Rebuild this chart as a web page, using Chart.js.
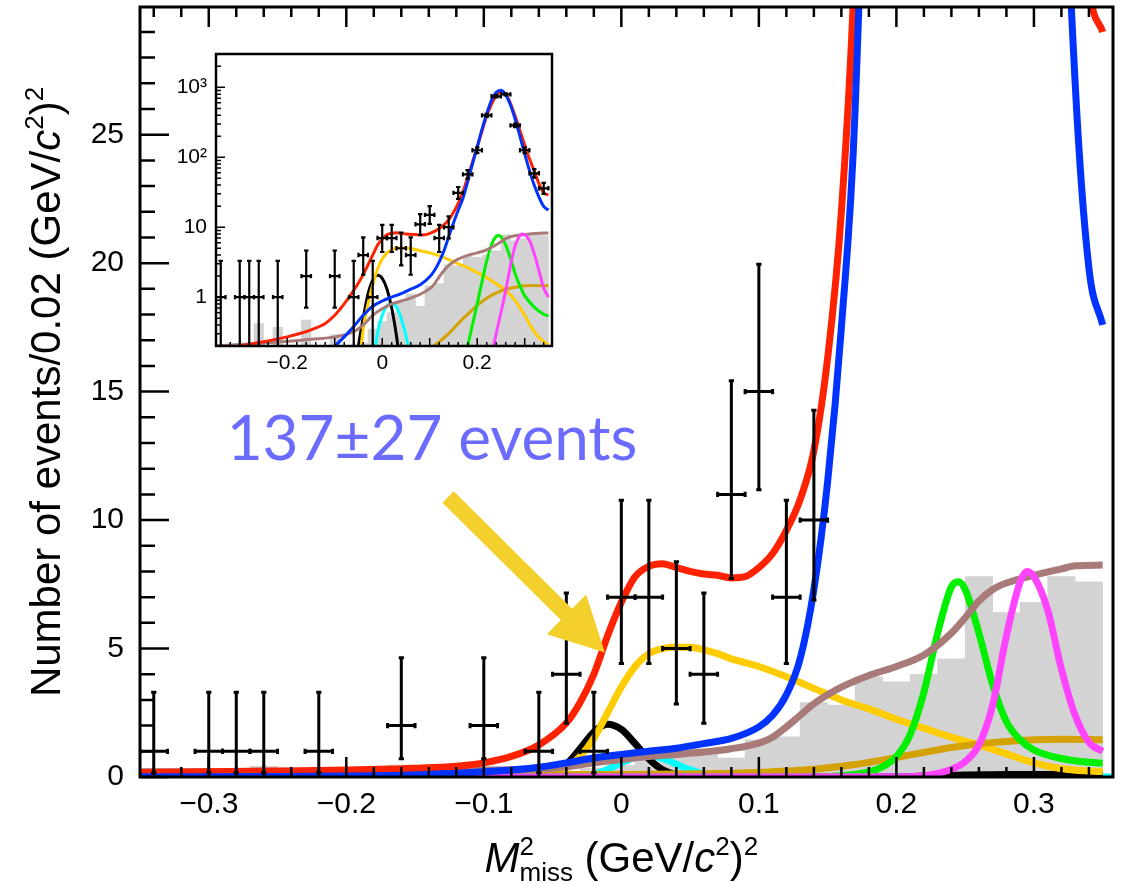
<!DOCTYPE html>
<html>
<head>
<meta charset="utf-8">
<script src="https://cdn.jsdelivr.net/npm/chart.js@4.4.1/dist/chart.umd.min.js"></script>
<style>
  html, body { margin: 0; padding: 0; background: #fff; overflow: hidden; }
  #wrap { position: relative; width: 1121px; height: 884px; }
  #mainChart { position: absolute; left: 0; top: 0; }
  #insetChart { position: absolute; left: 172px; top: 40px; }
</style>
</head>
<body>
<div id="wrap">
  <canvas id="mainChart" width="1121" height="884"></canvas>
  <canvas id="insetChart" width="390" height="340"></canvas>
</div>
<script>
// ---- histogram of M2miss, bins of 0.02 ----
var binCenters = [-0.34,-0.32,-0.30,-0.28,-0.26,-0.24,-0.22,-0.20,-0.18,-0.16,-0.14,-0.12,-0.10,-0.08,-0.06,-0.04,-0.02,
                  0.00,0.02,0.04,0.06,0.08,0.10,0.12,0.14,0.16,0.18,0.20,0.22,0.24,0.26,0.28,0.30,0.32,0.34];
var binHalfWidth = 0.01;
var dataCounts = [1,0,1,1,1,0,1,0,0,2,0,0,2,0,1,4,1,
                  7,7,5,4,11,15,7,10,31,57,126,398,745,795,286,126,59,36];
// asymmetric (Poisson) errors on the counts
var errLow  = [0.83,0,0.83,0.83,0.83,0,0.83,0,0,1.29,0,0,1.29,0,0.83,1.91,0.83,
               2.58,2.58,2.16,1.91,3.27,3.82,2.58,3.11,5.5,7.5,11.2,20,27.3,28.2,16.9,11.2,7.7,6];
var errHigh = [2.30,0,2.30,2.30,2.30,0,2.30,0,0,2.64,0,0,2.64,0,2.30,3.16,2.30,
               3.77,3.77,3.38,3.16,4.42,4.96,3.77,4.27,6.6,8.6,12.2,21,28.3,29.2,17.9,12.2,8.7,7];
// peaking background (grey histogram)
var peakingBkg = [0,0,0,0,0.42,0,0.37,0,0,0.47,0,0,0.29,0,0,0.22,0.35,
                  0.45,0.6,0.85,1.1,0.74,1.45,1.56,2.9,2.8,3.9,3.7,4.0,4.6,7.8,6.4,6.8,7.8,7.6];

// ---- fit components ----
var redX = [-0.35,-0.30,-0.25,-0.20,-0.15,-0.12,-0.10,-0.08,-0.06,-0.04,-0.03,-0.02,-0.01,0.00,0.01,0.02,0.03,0.04,0.05,0.06,0.07,0.08,0.09,0.10,
            0.11,0.12,0.13,0.14,0.15,0.16,0.17,0.18,0.19,0.20,0.21,0.22,0.23,0.24,0.25,0.26,0.27,0.28,0.29,0.30,0.31,0.32,0.33,0.34,0.35];
var redY = [0.18,0.2,0.23,0.27,0.34,0.42,0.55,0.8,1.25,2.1,2.9,4.0,5.5,6.8,7.8,8.2,8.3,8.15,8.0,7.9,7.85,7.75,7.8,8.15,
            8.7,9.6,10.8,12.7,16.3,22,32,52,85,140,235,390,570,760,870,800,590,385,240,150,95,64,42,31,29];

var blueX = [-0.35,-0.25,-0.18,-0.14,-0.12,-0.10,-0.08,-0.06,-0.04,-0.02,0.00,0.02,0.04,0.06,0.08,0.10,0.11,0.12,0.13,0.14,0.15,0.16,0.17,
             0.18,0.19,0.20,0.21,0.22,0.23,0.24,0.25,0.26,0.27,0.28,0.29,0.30,0.31,0.32,0.33,0.34,0.35];
var blueY = [0.01,0.02,0.05,0.1,0.15,0.2,0.27,0.38,0.55,0.74,0.88,1.0,1.12,1.3,1.5,1.95,2.4,3.2,4.6,7.3,11.5,17.5,26,
             45,80,140,250,420,650,850,910,780,560,350,200,112,65,40,27,19.8,17.6];

var yellowX = [-0.35,-0.07,-0.06,-0.05,-0.04,-0.03,-0.02,-0.01,0.00,0.01,0.02,0.03,0.04,0.05,0.06,0.07,0.08,0.09,0.10,
               0.12,0.14,0.16,0.18,0.20,0.22,0.24,0.26,0.28,0.30,0.32,0.34,0.35];
var yellowY = [0.001,0.001,0.01,0.08,0.35,0.8,1.5,2.5,3.5,4.3,4.8,5.0,5.05,5.05,4.95,4.8,4.6,4.45,4.3,
               3.9,3.45,3.0,2.65,2.25,1.9,1.55,1.25,0.9,0.55,0.32,0.23,0.21];

var blackX = [-0.35,-0.07,-0.06,-0.05,-0.04,-0.03,-0.02,-0.01,0.00,0.01,0.02,0.03,0.04,0.05,0.06,0.20,0.22,0.25,0.28,0.35];
var blackY = [0.0001,0.01,0.05,0.2,0.5,1.1,1.75,2.05,1.85,1.3,0.7,0.28,0.08,0.02,0.003,0.003,0.04,0.08,0.1,0.1];

var cyanX = [-0.35,-0.03,-0.02,-0.01,0.00,0.01,0.02,0.03,0.04,0.05,0.06,0.07,0.08,0.3575];
var cyanY = [0.0001,0.01,0.1,0.3,0.55,0.75,0.82,0.72,0.5,0.28,0.12,0.04,0.01,0.0001];

var greenX = [-0.35,0.14,0.16,0.18,0.19,0.20,0.21,0.22,0.23,0.24,0.245,0.25,0.26,0.27,0.28,0.29,0.30,0.32,0.34,0.35];
var greenY = [0.0001,0.01,0.05,0.2,0.4,0.8,1.65,3.3,5.6,7.4,7.6,7.3,5.6,3.6,2.15,1.45,1.05,0.72,0.57,0.54];

var magentaX = [-0.35,0.20,0.22,0.23,0.24,0.25,0.26,0.27,0.28,0.29,0.295,0.30,0.31,0.32,0.33,0.34,0.35];
var magentaY = [0.0001,0.01,0.05,0.14,0.3,0.6,1.25,2.8,5.5,7.6,8.0,7.8,6.5,4.2,2.4,1.35,1.0];

var goldX = [-0.35,-0.20,0.00,0.06,0.10,0.12,0.14,0.16,0.18,0.20,0.22,0.24,0.26,0.28,0.30,0.32,0.35];
var goldY = [0.08,0.08,0.1,0.13,0.18,0.23,0.3,0.42,0.57,0.76,0.96,1.15,1.29,1.38,1.45,1.47,1.45];

var brownX = [-0.35,-0.25,-0.15,-0.10,-0.06,-0.04,-0.02,0.00,0.02,0.04,0.06,0.08,0.10,0.11,0.12,0.13,0.14,0.15,0.16,
              0.18,0.20,0.22,0.24,0.25,0.26,0.27,0.28,0.30,0.32,0.33,0.35];
var brownY = [0.2,0.22,0.25,0.27,0.32,0.4,0.55,0.68,0.8,0.88,0.97,1.1,1.32,1.55,1.95,2.4,2.85,3.2,3.5,
              3.95,4.3,4.75,5.6,6.2,6.85,7.3,7.55,7.85,8.1,8.22,8.25];

// ---- axes ----
var xRange = [-0.35, 0.3575];
var xTickValues = [-0.3,-0.2,-0.1,0,0.1,0.2,0.3];
var xTickLabels = ['\u22120.3','\u22120.2','\u22120.1','0','0.1','0.2','0.3'];
var yTickValues = [0,5,10,15,20,25];
var yTickLabels = ['0','5','10','15','20','25'];
var insetXTickValues = [-0.2,0,0.2];
var insetXTickLabels = ['\u22120.2','0','0.2'];
var insetYTickValues = [1,10,100,1000];
var insetYTickLabels = ['1','10','10\u00b2','10\u00b3'];

// yield annotation
var yieldText = '137\u00b127 events';
var yieldTextPos = [-0.287, 12.35];
var arrowFrom = [-0.126, 10.9];
var arrowTo = [-0.012, 4.85];

var FONT = '"Liberation Sans", Arial, sans-serif';

function pairs(xs, ys) {
  return xs.map(function (x, i) { return { x: x, y: ys[i] }; });
}

function curve(xs, ys, color, width) {
  return {
    type: 'line',
    data: pairs(xs, ys),
    borderColor: color,
    borderWidth: width,
    pointRadius: 0,
    fill: false,
    cubicInterpolationMode: 'monotone',
    clip: 0
  };
}

function buildDatasets(lw, logScale) {
  var bkg = binCenters.map(function (c, i) {
    var v = peakingBkg[i];
    return { x: c, y: (logScale && v <= 0) ? null : v };
  });
  // first entry is drawn on top
  return [
    curve(blueX, blueY, '#0033ff', lw),
    curve(redX, redY, '#ff2200', lw),
    curve(magentaX, magentaY, '#ff44ff', lw),
    curve(brownX, brownY, '#a87a78', lw),
    curve(greenX, greenY, '#00f000', lw),
    curve(goldX, goldY, '#d4a200', lw),
    curve(yellowX, yellowY, '#ffcc00', lw),
    curve(blackX, blackY, '#000000', lw),
    curve(cyanX, cyanY, '#00ffff', lw),
    {
      type: 'bar',
      data: bkg,
      backgroundColor: '#d3d3d3',
      borderWidth: 0,
      barPercentage: 1.0,
      categoryPercentage: 1.0,
      clip: 0
    }
  ];
}

// points with error bars, skipped when off the top of the frame
function drawDataPoints(chart, lw, cap) {
  var ctx = chart.ctx, a = chart.chartArea;
  var xs = chart.scales.x, ys = chart.scales.y;
  ctx.save();
  ctx.beginPath();
  ctx.rect(a.left, a.top, a.right - a.left, a.bottom - a.top);
  ctx.clip();
  ctx.strokeStyle = '#000';
  ctx.lineWidth = lw;
  binCenters.forEach(function (c, i) {
    var n = dataCounts[i];
    if (n <= 0 || n > ys.max) return;
    var px = xs.getPixelForValue(c), py = ys.getPixelForValue(n);
    var pLo = ys.getPixelForValue(Math.max(n - errLow[i], ys.min));
    var pHi = ys.getPixelForValue(n + errHigh[i]);
    var pL = xs.getPixelForValue(c - binHalfWidth), pR = xs.getPixelForValue(c + binHalfWidth);
    ctx.beginPath();
    ctx.moveTo(px, pLo); ctx.lineTo(px, pHi);
    ctx.moveTo(pL, py); ctx.lineTo(pR, py);
    ctx.moveTo(px - cap, pLo); ctx.lineTo(px + cap, pLo);
    ctx.moveTo(px - cap, pHi); ctx.lineTo(px + cap, pHi);
    ctx.moveTo(pL, py - cap); ctx.lineTo(pL, py + cap);
    ctx.moveTo(pR, py - cap); ctx.lineTo(pR, py + cap);
    ctx.stroke();
  });
  ctx.restore();
}

// inward ticks on a 0.02 grid for x
function drawXTicks(ctx, a, xs, major, minor, top) {
  for (var k = -17; k <= 17; k++) {
    var px = xs.getPixelForValue(k * 0.02);
    var len = (k % 5 === 0) ? major : minor;
    ctx.moveTo(px, a.bottom); ctx.lineTo(px, a.bottom - len);
    if (top) { ctx.moveTo(px, a.top); ctx.lineTo(px, a.top + len); }
  }
}

// rich text: runs of {t, f, dy} or {stack: [sup, sub], f, up, down}
function runsWidth(ctx, runs) {
  var w = 0;
  runs.forEach(function (r) {
    ctx.font = r.f;
    if (r.stack) w += Math.max(ctx.measureText(r.stack[0]).width, ctx.measureText(r.stack[1]).width);
    else w += ctx.measureText(r.t).width;
  });
  return w;
}
function drawRuns(ctx, runs, x, y) {
  runs.forEach(function (r) {
    ctx.font = r.f;
    if (r.stack) {
      ctx.fillText(r.stack[0], x, y + r.up);
      ctx.fillText(r.stack[1], x, y + r.down);
      x += Math.max(ctx.measureText(r.stack[0]).width, ctx.measureText(r.stack[1]).width);
    } else {
      ctx.fillText(r.t, x, y + (r.dy || 0));
      x += ctx.measureText(r.t).width;
    }
  });
}

var titleFont = '42px ' + FONT, titleItalic = 'italic 42px ' + FONT, titleSmall = '26px ' + FONT;
var yTitleRuns = [
  { t: 'Number of events/0.02 (GeV/', f: titleFont },
  { t: 'c', f: titleItalic },
  { t: '2', f: titleSmall, dy: -17 },
  { t: ')', f: titleFont },
  { t: '2', f: titleSmall, dy: -17 }
];
var xTitleRuns = [
  { t: 'M', f: titleItalic },
  { stack: ['2', 'miss'], f: titleSmall, up: -17, down: 9 },
  { t: ' (GeV/', f: titleFont },
  { t: 'c', f: titleItalic },
  { t: '2', f: titleSmall, dy: -17 },
  { t: ')', f: titleFont },
  { t: '2', f: titleSmall, dy: -17 }
];

// keep the frame where the layout padding puts it, labels may overhang
function noLabelPadding(s) {
  s.paddingTop = 0; s.paddingBottom = 0; s.paddingLeft = 0; s.paddingRight = 0;
}

var mainDecor = {
  id: 'mainDecor',
  afterDatasetsDraw: function (chart) {
    drawDataPoints(chart, 3, 2.6);
  },
  afterDraw: function (chart) {
    var ctx = chart.ctx, a = chart.chartArea;
    var xs = chart.scales.x, ys = chart.scales.y;
    ctx.save();
    ctx.strokeStyle = '#000';
    ctx.lineWidth = 2.5;
    ctx.beginPath();
    drawXTicks(ctx, a, xs, 20, 10, true);
    for (var v = 0; v < ys.max; v++) {
      var py = ys.getPixelForValue(v);
      ctx.moveTo(a.left, py); ctx.lineTo(a.left + (v % 5 === 0 ? 29 : 15), py);
    }
    ctx.stroke();
    ctx.lineWidth = 3;
    ctx.strokeRect(a.left, a.top, a.right - a.left, a.bottom - a.top);

    // arrow pointing at the signal bump
    var x0 = xs.getPixelForValue(arrowFrom[0]), y0 = ys.getPixelForValue(arrowFrom[1]);
    var x1 = xs.getPixelForValue(arrowTo[0]), y1 = ys.getPixelForValue(arrowTo[1]);
    var dx = x1 - x0, dy = y1 - y0, L = Math.sqrt(dx * dx + dy * dy);
    var ux = dx / L, uy = dy / L, nx = -uy, ny = ux;
    var head = 54, hw = 28, sw = 8;
    var bx = x1 - ux * head, by = y1 - uy * head;
    ctx.fillStyle = '#f4d02c';
    ctx.beginPath();
    ctx.moveTo(x0 + nx * sw, y0 + ny * sw);
    ctx.lineTo(bx + nx * sw, by + ny * sw);
    ctx.lineTo(bx + nx * hw, by + ny * hw);
    ctx.lineTo(x1, y1);
    ctx.lineTo(bx - nx * hw, by - ny * hw);
    ctx.lineTo(bx - nx * sw, by - ny * sw);
    ctx.lineTo(x0 - nx * sw, y0 - ny * sw);
    ctx.closePath();
    ctx.fill();

    // yield label
    ctx.fillStyle = '#6b6bff';
    ctx.font = '62px Lato, sans-serif';
    ctx.textBaseline = 'alphabetic';
    ctx.textAlign = 'left';
    ctx.fillText(yieldText, xs.getPixelForValue(yieldTextPos[0]), ys.getPixelForValue(yieldTextPos[1]));

    // axis titles
    ctx.fillStyle = '#000';
    var xw = runsWidth(ctx, xTitleRuns);
    drawRuns(ctx, xTitleRuns, xs.getPixelForValue(0) - xw / 2, 872);
    ctx.translate(60, (a.top + a.bottom) / 2);
    ctx.rotate(-Math.PI / 2);
    var yw = runsWidth(ctx, yTitleRuns);
    drawRuns(ctx, yTitleRuns, -yw / 2, 0);
    ctx.restore();
  }
};

var insetDecor = {
  id: 'insetDecor',
  beforeDatasetsDraw: function (chart) {
    var ctx = chart.ctx, a = chart.chartArea;
    ctx.save();
    ctx.fillStyle = '#fff';
    ctx.fillRect(a.left, a.top, a.right - a.left, a.bottom - a.top);
    ctx.restore();
  },
  afterDatasetsDraw: function (chart) {
    drawDataPoints(chart, 2.2, 2.2);
  },
  afterDraw: function (chart) {
    var ctx = chart.ctx, a = chart.chartArea;
    var xs = chart.scales.x, ys = chart.scales.y;
    ctx.save();
    ctx.strokeStyle = '#000';
    ctx.lineWidth = 1.5;
    ctx.beginPath();
    drawXTicks(ctx, a, xs, 8, 4, false);
    [0.1, 1, 10, 100, 1000].forEach(function (d) {
      for (var m = 1; m <= 9; m++) {
        var v = m * d;
        if (v < ys.min || v > ys.max) continue;
        var py = ys.getPixelForValue(v);
        ctx.moveTo(a.left, py); ctx.lineTo(a.left + (m === 1 ? 9 : 5), py);
      }
    });
    ctx.stroke();
    ctx.lineWidth = 2.5;
    ctx.strokeRect(a.left, a.top, a.right - a.left, a.bottom - a.top);
    ctx.restore();
  }
};

function tickLabels(values, labels) {
  return function (value) {
    var i = values.indexOf(value);
    return i < 0 ? '' : labels[i];
  };
}

new Chart(document.getElementById('mainChart').getContext('2d'), {
  type: 'line',
  data: { datasets: buildDatasets(7, false) },
  options: {
    responsive: false,
    animation: false,
    events: [],
    layout: { padding: { top: 7, right: 8, left: 0, bottom: 0 } },
    plugins: { legend: { display: false }, tooltip: { enabled: false } },
    scales: {
      x: {
        type: 'linear', min: xRange[0], max: xRange[1], offset: false,
        grid: { display: false, drawTicks: false }, border: { display: false },
        afterBuildTicks: function (s) { s.ticks = xTickValues.map(function (v) { return { value: v }; }); },
        afterFit: function (s) { s.height = 107; noLabelPadding(s); },
        ticks: { callback: tickLabels(xTickValues, xTickLabels), autoSkip: false, maxRotation: 0,
                 padding: 10, color: '#000', font: { family: FONT, size: 30 } }
      },
      y: {
        type: 'linear', min: 0, max: 29.97,
        grid: { display: false, drawTicks: false }, border: { display: false },
        afterBuildTicks: function (s) { s.ticks = yTickValues.map(function (v) { return { value: v }; }); },
        afterFit: function (s) { s.width = 140; noLabelPadding(s); },
        ticks: { callback: tickLabels(yTickValues, yTickLabels), autoSkip: false,
                 padding: 16, color: '#000', font: { family: FONT, size: 30 } }
      }
    }
  },
  plugins: [mainDecor]
});

new Chart(document.getElementById('insetChart').getContext('2d'), {
  type: 'line',
  data: { datasets: buildDatasets(3, true) },
  options: {
    responsive: false,
    animation: false,
    events: [],
    layout: { padding: { top: 14, right: 10, left: 0, bottom: 0 } },
    plugins: { legend: { display: false }, tooltip: { enabled: false } },
    scales: {
      x: {
        type: 'linear', min: xRange[0], max: xRange[1], offset: false,
        grid: { display: false, drawTicks: false }, border: { display: false },
        afterBuildTicks: function (s) { s.ticks = insetXTickValues.map(function (v) { return { value: v }; }); },
        afterFit: function (s) { s.height = 34; noLabelPadding(s); },
        ticks: { callback: tickLabels(insetXTickValues, insetXTickLabels), autoSkip: false, maxRotation: 0,
                 padding: 5, color: '#000', font: { family: FONT, size: 21 } }
      },
      y: {
        type: 'logarithmic', min: 0.2, max: 3000,
        grid: { display: false, drawTicks: false }, border: { display: false },
        afterBuildTicks: function (s) { s.ticks = insetYTickValues.map(function (v) { return { value: v }; }); },
        afterFit: function (s) { s.width = 44; noLabelPadding(s); },
        ticks: { callback: tickLabels(insetYTickValues, insetYTickLabels), autoSkip: false,
                 padding: 9, color: '#000', font: { family: FONT, size: 21 } }
      }
    }
  },
  plugins: [insetDecor]
});
</script>
</body>
</html>
